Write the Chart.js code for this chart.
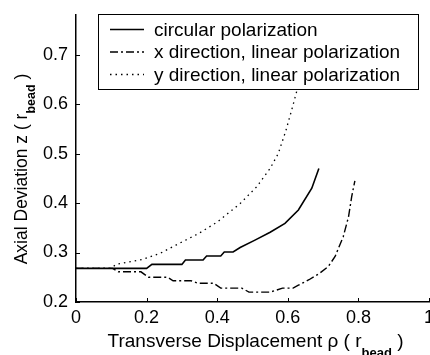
<!DOCTYPE html>
<html>
<head>
<meta charset="utf-8">
<script src="https://cdn.jsdelivr.net/npm/chart.js@4"></script>
<style>
  html, body { margin: 0; padding: 0; background: #fff; }
  canvas { display: block; }
</style>
</head>
<body>
<canvas id="c" width="430" height="355"></canvas>
<script>
// Axis ticks
const xTickValues = [0, 0.2, 0.4, 0.6, 0.8, 1];
const yTickValues = [0.2, 0.3, 0.4, 0.5, 0.6, 0.7];

// Circular polarization (solid)
const circRho = [0, 0.2, 0.215, 0.30, 0.31, 0.36, 0.37, 0.41, 0.42, 0.445, 0.465, 0.507, 0.55, 0.592, 0.63, 0.668, 0.688];
const circZ   = [0.268, 0.268, 0.276, 0.276, 0.285, 0.285, 0.293, 0.293, 0.301, 0.301, 0.310, 0.325, 0.341, 0.359, 0.386, 0.430, 0.470];

// x direction, linear polarization (dash-dot)
const xLinRho = [0, 0.104, 0.12, 0.184, 0.205, 0.26, 0.275, 0.326, 0.345, 0.39, 0.41, 0.47, 0.49, 0.55, 0.585, 0.615, 0.63, 0.66, 0.69, 0.715, 0.734, 0.757, 0.772, 0.781, 0.79];
const xLinZ   = [0.268, 0.268, 0.261, 0.261, 0.250, 0.250, 0.243, 0.243, 0.238, 0.238, 0.228, 0.228, 0.220, 0.220, 0.228, 0.228, 0.234, 0.245, 0.258, 0.272, 0.292, 0.332, 0.372, 0.413, 0.445];

// y direction, linear polarization (dotted)
const yLinRho = [0, 0.10, 0.113, 0.15, 0.189, 0.24, 0.283, 0.349, 0.401, 0.465, 0.512, 0.55, 0.573, 0.594, 0.611, 0.625, 0.64];
const yLinZ   = [0.268, 0.268, 0.276, 0.281, 0.286, 0.299, 0.315, 0.339, 0.362, 0.399, 0.433, 0.470, 0.500, 0.545, 0.588, 0.625, 0.670];

const seriesNames = ['circular polarization', 'x direction, linear polarization', 'y direction, linear polarization'];
const seriesDash = [[], [8, 3, 2, 3], [1.5, 4]];
const seriesWidth = [1.6, 1.4, 1.3];

const xTitle = ['Transverse Displacement \u03C1 ( r', 'bead', ' )'];
const yTitle = ['Axial Deviation z ( r', 'bead', ' )'];

const FONT = "'Liberation Sans', Arial, Helvetica, sans-serif";

function pts(xs, ys) { return xs.map((x, i) => ({ x: x, y: ys[i] })); }

// Draws a label made of normal text, a subscript and trailing text, centred at cx.
function drawSubLabel(ctx, parts, cx, baseY, mainSize, subSize, subDrop) {
  const mainFont = mainSize + 'px ' + FONT;
  const subFont = 'bold ' + subSize + 'px ' + FONT;
  ctx.font = mainFont; const w0 = ctx.measureText(parts[0]).width;
  ctx.font = subFont;  const w1 = ctx.measureText(parts[1]).width;
  ctx.font = mainFont; const w2 = ctx.measureText(parts[2]).width;
  let x = cx - (w0 + w1 + w2) / 2;
  ctx.textAlign = 'left';
  ctx.textBaseline = 'alphabetic';
  ctx.fillStyle = '#000';
  ctx.font = mainFont; ctx.fillText(parts[0], x, baseY); x += w0;
  ctx.font = subFont;  ctx.fillText(parts[1], x, baseY + subDrop); x += w1;
  ctx.font = mainFont; ctx.fillText(parts[2], x, baseY);
}

const decor = {
  id: 'decor',
  afterDatasetsDraw(chart) {
    const ctx = chart.ctx;
    const xs = chart.scales.x, ys = chart.scales.y;
    const area = chart.chartArea;
    ctx.save();

    // inward tick marks
    ctx.strokeStyle = '#000';
    ctx.lineWidth = 1;
    ctx.setLineDash([]);
    ctx.beginPath();
    xTickValues.forEach(v => {
      const px = Math.round(xs.getPixelForValue(v)) + 0.5;
      ctx.moveTo(px, area.bottom);
      ctx.lineTo(px, area.bottom - 4);
    });
    yTickValues.forEach(v => {
      const py = Math.round(ys.getPixelForValue(v)) + 0.5;
      ctx.moveTo(area.left, py);
      ctx.lineTo(area.left + 4, py);
    });
    ctx.stroke();

    // legend box
    const bx = 98.5, by = 14.5, bw = 320, bh = 75;
    ctx.fillStyle = '#fff';
    ctx.fillRect(bx, by, bw, bh);
    ctx.strokeStyle = '#000';
    ctx.lineWidth = 1;
    ctx.strokeRect(bx, by, bw, bh);
    const rowY = [29.5, 52, 74.5];
    ctx.font = '19px ' + FONT;
    ctx.textAlign = 'left';
    ctx.textBaseline = 'middle';
    seriesNames.forEach((name, i) => {
      ctx.beginPath();
      ctx.setLineDash(seriesDash[i]);
      ctx.lineWidth = seriesWidth[i];
      ctx.moveTo(110, rowY[i]);
      ctx.lineTo(144, rowY[i]);
      ctx.stroke();
      ctx.setLineDash([]);
      ctx.fillStyle = '#000';
      ctx.fillText(name, 154, rowY[i] + 1);
    });

    // axis titles
    drawSubLabel(ctx, xTitle, (area.left + area.right) / 2 + 3, 347, 19, 13, 10);
    ctx.save();
    ctx.translate(27, 169);
    ctx.rotate(-Math.PI / 2);
    drawSubLabel(ctx, yTitle, 0, 0, 17.5, 12.5, 8);
    ctx.restore();

    ctx.restore();
  }
};

new Chart(document.getElementById('c'), {
  type: 'line',
  data: {
    datasets: [
      { label: seriesNames[0], data: pts(circRho, circZ), borderColor: '#000', borderWidth: seriesWidth[0], borderDash: seriesDash[0] },
      { label: seriesNames[1], data: pts(xLinRho, xLinZ), borderColor: '#000', borderWidth: seriesWidth[1], borderDash: seriesDash[1] },
      { label: seriesNames[2], data: pts(yLinRho, yLinZ), borderColor: '#000', borderWidth: seriesWidth[2], borderDash: seriesDash[2] }
    ]
  },
  options: {
    responsive: false,
    animation: false,
    devicePixelRatio: 1,
    layout: { padding: { top: 15, right: 0, bottom: 0, left: 0 } },
    elements: { point: { radius: 0 }, line: { tension: 0, fill: false } },
    plugins: { legend: { display: false }, tooltip: { enabled: false } },
    scales: {
      x: {
        type: 'linear',
        min: 0, max: 1,
        afterBuildTicks: s => { s.ticks = xTickValues.map(v => ({ value: v })); },
        afterFit: s => { s.height = 53; s.paddingRight = 1; s.paddingLeft = 0; },
        ticks: {
          color: '#000', padding: 5, maxRotation: 0, autoSkip: false,
          font: { family: FONT, size: 18 },
          callback: v => (v === 0 || v === 1) ? String(v) : v.toFixed(1)
        },
        grid: { drawOnChartArea: false, drawTicks: false },
        border: { display: true, color: '#000', width: 1.5 }
      },
      y: {
        type: 'linear',
        min: 0.2, max: 0.78,
        afterBuildTicks: s => { s.ticks = yTickValues.map(v => ({ value: v })); },
        afterFit: s => { s.width = 76; s.paddingTop = 0; },
        ticks: {
          color: '#000', padding: 8, autoSkip: false,
          font: { family: FONT, size: 18 },
          callback: v => v.toFixed(1)
        },
        grid: { drawOnChartArea: false, drawTicks: false },
        border: { display: true, color: '#000', width: 1.5 }
      }
    }
  },
  plugins: [decor]
});
</script>
</body>
</html>
